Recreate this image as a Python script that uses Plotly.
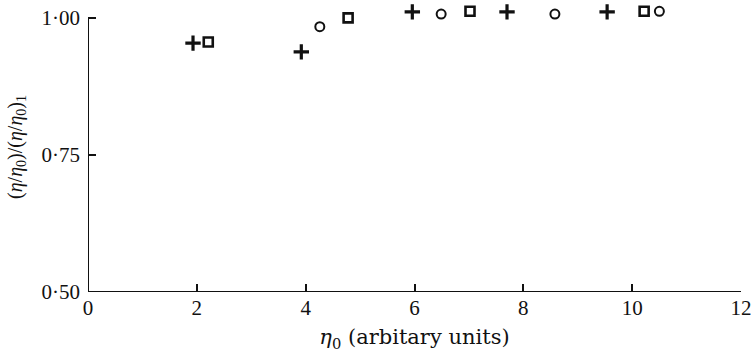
import plotly.graph_objects as go

# Relative viscosity ratio against eta_0, three series of measurements
plus_x = [1.93, 3.92, 5.96, 7.70, 9.54]
plus_y = [0.954, 0.938, 1.011, 1.011, 1.011]

circle_x = [4.26, 6.49, 8.58, 10.50]
circle_y = [0.984, 1.007, 1.007, 1.012]

square_x = [2.21, 4.78, 7.02, 10.22]
square_y = [0.956, 1.000, 1.012, 1.012]

x_ticks = [0, 2, 4, 6, 8, 10, 12]
y_ticks = [0.50, 0.75, 1.00]
y_tick_text = ["0·50", "0·75", "1·00"]

INK = "#111111"

fig = go.Figure()
fig.add_trace(go.Scatter(
    x=plus_x, y=plus_y, mode="markers",
    marker=dict(symbol="cross-thin", size=11, line=dict(color=INK, width=3.2)),
))
fig.add_trace(go.Scatter(
    x=circle_x, y=circle_y, mode="markers",
    marker=dict(symbol="circle-open", size=9, color=INK, line=dict(color=INK, width=2)),
))
fig.add_trace(go.Scatter(
    x=square_x, y=square_y, mode="markers",
    marker=dict(symbol="square-open", size=9, color=INK, line=dict(color=INK, width=2.6)),
))

# Axis spines: the vertical one stops at 1.00
fig.add_shape(type="line", xref="x", yref="y", x0=0, x1=0, y0=0.5, y1=1.0,
              line=dict(color=INK, width=2))
fig.add_shape(type="line", xref="x", yref="y", x0=0, x1=12, y0=0.5, y1=0.5,
              line=dict(color=INK, width=2))

serif = "Liberation Serif"

fig.update_layout(
    width=756, height=355,
    margin=dict(l=88, r=15, t=2, b=63),
    paper_bgcolor="white", plot_bgcolor="white",
    showlegend=False,
    font=dict(family=serif, color=INK, size=19),
    xaxis=dict(
        range=[0, 12], tickvals=x_ticks, showgrid=False, zeroline=False,
        showline=False, ticks="inside", ticklen=8, tickwidth=2, tickcolor=INK,
        tickfont=dict(family=serif, size=21), ticklabelstandoff=1,
        title=dict(text="<i>η</i><sub>0</sub> (arbitary units)",
                   font=dict(family="DejaVu Serif", size=21), standoff=10),
    ),
    yaxis=dict(
        range=[0.5, 1.029], tickvals=y_ticks, ticktext=y_tick_text,
        showgrid=False, zeroline=False, showline=False,
        ticks="inside", ticklen=8, tickwidth=2, tickcolor=INK,
        tickfont=dict(family=serif, size=21), ticklabelstandoff=7,
        title=dict(text="(<i>η</i>/<i>η</i><sub>0</sub>)/(<i>η</i>/<i>η</i><sub>0</sub>)<sub>1</sub>",
                   font=dict(family=serif, size=20), standoff=13),
    ),
)

fig.write_html("out.html")
